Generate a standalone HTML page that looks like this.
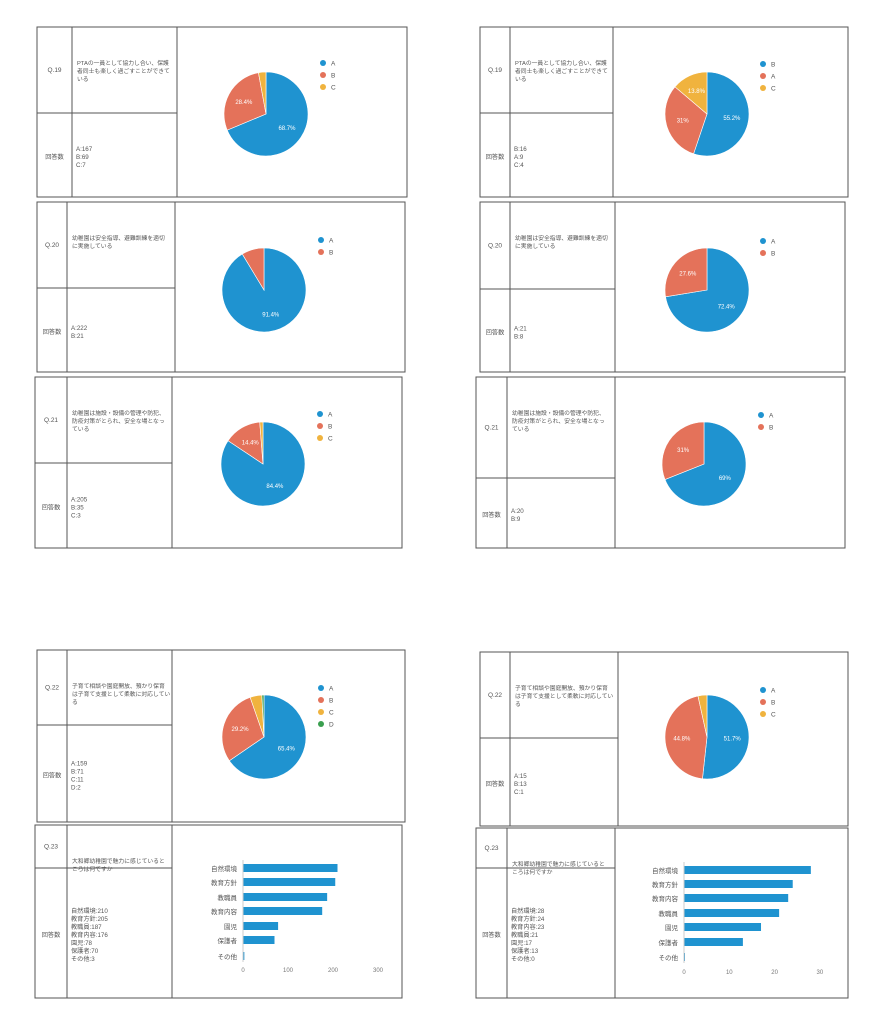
<!DOCTYPE html>
<html><head><meta charset="utf-8"><style>
html,body{margin:0;padding:0;background:#fff;}
svg{display:block;font-family:"Liberation Sans","Noto Sans CJK JP",sans-serif;}
</style></head><body>
<svg id="s" width="884" height="1024" viewBox="0 0 884 1024" xmlns="http://www.w3.org/2000/svg"></svg>
<script>
const S=document.getElementById('s');let h='';
const C={A:'#1f93d0',B:'#e4725a',C:'#f0b33e',D:'#3a9f4f'};
function panel(x1,y1,x2,y2,v1,v2,hy,q,qtext,ans){
 h+=`<rect x="${x1}" y="${y1}" width="${x2-x1}" height="${y2-y1}" fill="none" stroke="#555" stroke-width="1"/>`;
 h+=`<line x1="${v1}" y1="${y1}" x2="${v1}" y2="${y2}" stroke="#555"/><line x1="${v2}" y1="${y1}" x2="${v2}" y2="${y2}" stroke="#555"/><line x1="${x1}" y1="${hy}" x2="${v2}" y2="${hy}" stroke="#555"/>`;
 h+=`<text x="${(x1+v1)/2}" y="${y1+(hy-y1)/2+2}" font-size="6.5" fill="#555" text-anchor="middle">${q}</text>`;
 qtext.forEach((t,i)=>h+=`<text x="${v1+5}" y="${y1+38+i*8}" font-size="5.8" fill="#555">${t}</text>`);
 h+=`<text x="${(x1+v1)/2}" y="${(hy+y2)/2+4}" font-size="6.2" fill="#555" text-anchor="middle">回答数</text>`;
 const sy=(hy+y2)/2-(ans.length*8)/2+8;
 ans.forEach((t,i)=>h+=`<text x="${v1+4}" y="${sy+i*8}" font-size="6.2" fill="#555">${t}</text>`);
}
function pie(cx,cy,r,data,lx,ly,names){
 let tot=data.reduce((a,d)=>a+d[1],0),a0=-Math.PI/2;
 data.forEach(d=>{const a1=a0+d[1]/tot*2*Math.PI;
  const x0=cx+r*Math.cos(a0),y0=cy+r*Math.sin(a0),x1=cx+r*Math.cos(a1),y1=cy+r*Math.sin(a1);
  h+=`<path d="M${cx},${cy}L${x0},${y0}A${r},${r} 0 ${a1-a0>Math.PI?1:0} 1 ${x1},${y1}Z" fill="${C[d[0]]}" stroke="#fff" stroke-width="0.6"/>`;
  if(d[2]){const m=(a0+a1)/2;h+=`<text x="${cx+r*0.6*Math.cos(m)}" y="${cy+r*0.6*Math.sin(m)+2}" font-size="6" fill="#fff" text-anchor="middle">${d[2]}</text>`;}
  a0=a1;});
 data.forEach((d,i)=>{h+=`<circle cx="${lx}" cy="${ly+i*12}" r="3" fill="${C[d[0]]}"/><text x="${lx+8}" y="${ly+i*12+2.5}" font-size="6.5" fill="#555">${names?names[i]:d[0]}</text>`;});
}
function bars(x0,sc,ys,labels,vals,ticks,ty){
 labels.forEach((l,i)=>{h+=`<text x="${x0-6}" y="${ys[i]+3}" font-size="6.5" fill="#555" text-anchor="end">${l}</text>`;
  h+=`<rect x="${x0}" y="${ys[i]-4}" width="${Math.max(vals[i]*sc,1)}" height="8" fill="#1f93d0"/>`;});
 h+=`<line x1="${x0}" y1="${ys[0]-8}" x2="${x0}" y2="${ys[6]+6}" stroke="#ccc"/>`;
 ticks.forEach(t=>h+=`<text x="${x0+t*sc}" y="${ty}" font-size="6" fill="#777" text-anchor="middle">${t}</text>`);
}
panel(37,27,407,197,72,177,113,'Q.19',['PTAの一員として協力し合い、保護','者同士も楽しく過ごすことができて','いる'],['A:167','B:69','C:7']);
pie(266,114,42,[['A',167,'68.7%'],['B',69,'28.4%'],['C',7]],323,63);
panel(37,202,405,372,67,175,288,'Q.20',['幼稚園は安全指導、避難訓練を適切','に実施している'],['A:222','B:21']);
pie(264,290,42,[['A',222,'91.4%'],['B',21]],321,240);
panel(35,377,402,548,67,172,463,'Q.21',['幼稚園は施設・設備の管理や防犯、','防疫対策がとられ、安全な場となっ','ている'],['A:205','B:35','C:3']);
pie(263,464,42,[['A',205,'84.4%'],['B',35,'14.4%'],['C',3]],320,414);
panel(37,650,405,822,67,172,725,'Q.22',['子育て相談や園庭開放、預かり保育','は子育て支援として柔軟に対応してい','る'],['A:159','B:71','C:11','D:2']);
pie(264,737,42,[['A',159,'65.4%'],['B',71,'29.2%'],['C',11],['D',2]],321,688);
panel(35,825,402,998,67,172,868,'Q.23',['大和郷幼稚園で魅力に感じていると','ころは何ですか'],['自然環境:210','教育方針:205','教職員:187','教育内容:176','園児:78','保護者:70','その他:3']);
bars(243,0.45,[868,882,897,911,926,940,956],['自然環境','教育方針','教職員','教育内容','園児','保護者','その他'],[210,205,187,176,78,70,3],[0,100,200,300],972);
panel(480,27,848,197,510,613,113,'Q.19',['PTAの一員として協力し合い、保護','者同士も楽しく過ごすことができて','いる'],['B:16','A:9','C:4']);
pie(707,114,42,[['A',16,'55.2%'],['B',9,'31%'],['C',4,'13.8%']],763,64,['B','A','C']);
panel(480,202,845,372,510,615,289,'Q.20',['幼稚園は安全指導、避難訓練を適切','に実施している'],['A:21','B:8']);
pie(707,290,42,[['A',21,'72.4%'],['B',8,'27.6%']],763,241);
panel(476,377,845,548,507,615,478,'Q.21',['幼稚園は施設・設備の管理や防犯、','防疫対策がとられ、安全な場となっ','ている'],['A:20','B:9']);
pie(704,464,42,[['A',20,'69%'],['B',9,'31%']],761,415);
panel(480,652,848,826,510,618,738,'Q.22',['子育て相談や園庭開放、預かり保育','は子育て支援として柔軟に対応してい','る'],['A:15','B:13','C:1']);
pie(707,737,42,[['A',15,'51.7%'],['B',13,'44.8%'],['C',1]],763,690);
panel(476,828,848,998,507,615,868,'Q.23',['大和郷幼稚園で魅力に感じていると','ころは何ですか'],['自然環境:28','教育方針:24','教育内容:23','教職員:21','園児:17','保護者:13','その他:0']);
bars(684,4.53,[870,884,898,913,927,942,957],['自然環境','教育方針','教育内容','教職員','園児','保護者','その他'],[28,24,23,21,17,13,0],[0,10,20,30],974);
S.innerHTML=h;
</script>
</body></html>
